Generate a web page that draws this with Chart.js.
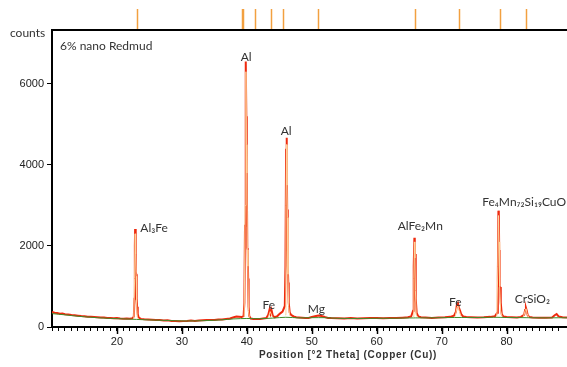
<!DOCTYPE html>
<html>
<head>
  <title>XRD 6% nano Redmud</title>
  <script src="https://cdn.jsdelivr.net/npm/chart.js"></script>
  <style>
    html, body { margin: 0; padding: 0; background: #fff; }
  </style>
</head>
<body>
  <div style="width: 567px; height: 367px;">
    <canvas id="xrdChart" width="567" height="367"></canvas>
  </div>

  <script>
    // measured pattern [2theta, counts]
    const measured = [
      [10.0,370],[10.4,350],[10.8,345],[11.2,330],[11.6,335],[12.0,315],[12.5,310],[13.0,295],[13.5,290],[14.0,280],
      [14.5,270],[15.0,265],[15.5,255],[16.0,250],[16.5,245],[17.0,240],[17.5,235],[18.0,235],[18.5,225],[19.0,225],
      [19.5,215],[20.0,220],[20.5,210],[21.0,205],[21.5,210],[22.0,205],[22.4,215],[22.6,260],[22.7,700],[22.76,2000],
      [22.8,2420],[22.86,2200],[22.92,1360],[22.98,1300],[23.04,700],[23.1,500],[23.2,320],[23.35,230],[23.7,200],[24.2,190],
      [24.8,185],[25.4,180],[26.0,175],[26.6,170],[27.2,160],[27.8,165],[28.4,150],[29.0,150],[29.6,140],[30.2,145],
      [30.8,150],[31.4,160],[32.0,150],[32.6,160],[33.2,165],[33.8,170],[34.4,175],[35.0,175],[35.6,185],[36.2,185],
      [36.8,200],[37.4,210],[38.0,240],[38.4,260],[38.8,255],[39.2,245],[39.5,270],[39.62,600],[39.72,2500],[39.8,6000],
      [39.87,6550],[39.92,5200],[39.96,3950],[40.02,3900],[40.07,1950],[40.13,1900],[40.2,1200],[40.27,500],[40.37,270],[40.6,210],
      [41.0,200],[41.5,195],[42.0,200],[42.5,210],[43.0,220],[43.3,300],[43.5,430],[43.65,330],[43.8,420],[44.0,280],
      [44.3,240],[44.7,270],[45.1,330],[45.5,380],[45.85,520],[45.95,1500],[46.05,4400],[46.12,4670],[46.17,4200],[46.21,2900],
      [46.27,2850],[46.33,1500],[46.38,1100],[46.45,600],[46.6,360],[46.8,300],[47.2,260],[47.6,240],[48.0,235],[48.5,230],
      [49.0,220],[49.5,225],[50.0,245],[50.5,265],[51.0,285],[51.5,270],[52.0,245],[52.5,225],[53.0,220],[54.0,215],
      [55.0,210],[56.0,220],[57.0,210],[58.0,215],[59.0,220],[60.0,225],[61.0,215],[62.0,225],[63.0,220],[64.0,230],
      [64.8,240],[65.3,260],[65.6,400],[65.7,1500],[65.8,2200],[65.86,1830],[65.91,1800],[65.97,840],[66.04,700],[66.15,350],
      [66.4,260],[66.8,240],[67.5,235],[68.5,225],[69.5,235],[70.5,240],[71.3,250],[71.9,280],[72.2,380],[72.35,560],
      [72.5,590],[72.65,480],[72.8,420],[73.0,320],[73.3,260],[73.8,245],[74.5,240],[75.5,235],[76.5,240],[77.5,250],
      [78.2,265],[78.55,350],[78.65,1200],[78.74,2870],[78.8,2800],[78.86,1900],[78.93,1000],[79.0,990],[79.1,600],[79.25,320],
      [79.5,260],[80.0,245],[80.8,240],[81.6,235],[82.2,250],[82.7,300],[82.85,420],[82.98,470],[83.1,400],[83.25,290],
      [83.5,245],[84.0,235],[85.0,230],[86.0,230],[87.0,235],[87.4,290],[87.7,320],[88.0,260],[88.6,240],[89.3,235]
    ];

    // calculated peak profiles (null = break)
    const calculated = [
      [22.6,200],[22.72,1200],[22.8,2300],[22.87,1800],[22.95,1250],[23.02,600],[23.12,250],[23.3,200],[23.31,null],
      [39.6,250],[39.74,3000],[39.86,6300],[39.93,4500],[40.0,3800],[40.08,1900],[40.16,1500],[40.25,400],[40.4,230],[40.41,null],
      [43.3,230],[43.6,380],[43.9,260],[43.91,null],
      [45.9,300],[46.02,3000],[46.11,4500],[46.18,3500],[46.25,2700],[46.33,1300],[46.44,500],[46.6,280],[46.61,null],
      [65.6,250],[65.72,1200],[65.8,2100],[65.88,1700],[65.96,900],[66.08,300],[66.3,240],[66.31,null],
      [72.1,260],[72.35,480],[72.5,520],[72.7,400],[72.95,270],[72.96,null],
      [78.5,260],[78.65,1500],[78.75,2750],[78.83,2100],[78.93,1000],[79.08,400],[79.3,260],[79.31,null],
      [82.6,250],[82.85,400],[83.0,450],[83.15,330],[83.4,240]
    ];

    // background
    const background = [
      [10,330],[12,300],[14,265],[16,240],[18,220],[20,205],[22,195],[24,180],[26,170],[28,160],
      [30,150],[32,150],[34,160],[36,175],[38,200],[40,210],[42,205],[44,220],[46,240],[48,225],
      [50,230],[52,230],[54,215],[56,210],[58,210],[60,215],[62,215],[64,220],[66,225],[68,225],
      [70,230],[72,235],[74,235],[76,235],[78,240],[80,235],[82,232],[84,228],[86,225],[88,228],[89.3,228]
    ];

    // reference pattern stick positions (top strip)
    const refSticks = [23.05, 39.3, 39.45, 41.28, 43.7, 45.64, 50.94, 65.89, 72.6, 78.92, 82.99];

    // phase labels
    const phaseNames  = ['Al\u2083Fe', 'Al', 'Al', 'Fe', 'Mg', 'AlFe\u2082Mn', 'Fe', 'Fe\u2084Mn\u2087\u2082Si\u2081\u2089CuO', 'CrSiO\u2082'];
    const phaseTheta  = [23.6, 39.9, 46.05, 43.4, 50.7, 66.7, 72.1, 82.7, 83.96];
    const phaseCounts = [2444, 6667, 4840, 543, 444, 2494, 617, 3086, 691];
    const phaseAlign  = ['left', 'center', 'center', 'center', 'center', 'center', 'center', 'center', 'center'];

    const yTicks = [0, 2000, 4000, 6000];

    const toXY = (arr) => arr.map((p) => ({ x: p[0], y: p[1] }));

    const extras = {
      id: 'extras',
      afterDraw(chart) {
        const ctx = chart.ctx;
        const xs = chart.scales.x;
        const ys = chart.scales.y;
        const area = chart.chartArea;
        ctx.save();

        // top border
        ctx.strokeStyle = '#000';
        ctx.lineWidth = 2;
        ctx.beginPath();
        ctx.moveTo(area.left, area.top);
        ctx.lineTo(area.right, area.top);
        ctx.stroke();

        // reference sticks
        ctx.strokeStyle = '#f2a040';
        ctx.lineWidth = 1.5;
        refSticks.forEach((t) => {
          const px = Math.round(xs.getPixelForValue(t)) + 0.5;
          ctx.beginPath();
          ctx.moveTo(px, 9);
          ctx.lineTo(px, area.top - 1);
          ctx.stroke();
        });

        // longer major ticks on x
        ctx.strokeStyle = '#000';
        ctx.lineWidth = 1.5;
        for (let v = 20; v <= 80; v += 10) {
          const px = Math.round(xs.getPixelForValue(v)) + 0.5;
          ctx.beginPath();
          ctx.moveTo(px, area.bottom);
          ctx.lineTo(px, area.bottom + 7);
          ctx.stroke();
        }

        // phase labels
        ctx.fillStyle = '#333';
        ctx.font = '12px Lato';
        ctx.textBaseline = 'middle';
        phaseNames.forEach((name, i) => {
          ctx.textAlign = phaseAlign[i];
          ctx.fillText(name, xs.getPixelForValue(phaseTheta[i]), ys.getPixelForValue(phaseCounts[i]));
        });

        // sample name and unit
        ctx.textAlign = 'left';
        ctx.fillText('6% nano Redmud', 60, 46);
        ctx.fillText('counts', 10, 33);

        // x axis title
        ctx.font = 'bold 10px "Liberation Sans"';
        ctx.fillStyle = '#333';
        ctx.textAlign = 'center';
        if ('letterSpacing' in ctx) ctx.letterSpacing = '0.7px';
        ctx.fillText('Position [\u00b02 Theta] (Copper (Cu))', 348, 355);
        ctx.restore();
      }
    };

    const ctxX = document.getElementById('xrdChart').getContext('2d');
    new Chart(ctxX, {
      type: 'line',
      data: {
        datasets: [
          {
            label: 'measured',
            data: toXY(measured),
            borderColor: '#ee2a0e',
            borderWidth: 2,
            pointRadius: 0,
            tension: 0,
            order: 3
          },
          {
            label: 'background',
            data: toXY(background),
            borderColor: '#3f8a2a',
            borderWidth: 1,
            pointRadius: 0,
            tension: 0.3,
            order: 2
          },
          {
            label: 'calculated',
            data: toXY(calculated),
            borderColor: '#ffd49a',
            borderWidth: 1,
            pointRadius: 0,
            tension: 0,
            spanGaps: false,
            order: 1
          }
        ]
      },
      options: {
        responsive: false,
        animation: false,
        events: [],
        layout: { padding: { top: 30, right: 0, left: 0, bottom: 0 } },
        plugins: {
          legend: { display: false },
          tooltip: { enabled: false }
        },
        scales: {
          x: {
            type: 'linear',
            min: 10,
            max: 89.3,
            afterFit: (s) => { s.height = 40; s.paddingRight = 0; s.paddingLeft = 0; },
            border: { display: true, color: '#000', width: 2 },
            grid: { drawOnChartArea: false, drawTicks: true, tickLength: 4, tickColor: '#000', tickWidth: 1 },
            ticks: {
              stepSize: 1,
              autoSkip: false,
              maxRotation: 0,
              padding: 4,
              color: '#222',
              font: { family: '"Liberation Sans"', size: 11 },
              callback: (v) => (v % 10 === 0 && v > 10 ? String(v) : '')
            }
          },
          y: {
            type: 'linear',
            min: 0,
            max: 7330,
            afterFit: (s) => { s.width = 52; s.paddingTop = 0; s.paddingBottom = 0; },
            afterBuildTicks: (s) => { s.ticks = yTicks.map((v) => ({ value: v })); },
            border: { display: true, color: '#000', width: 2 },
            grid: { drawOnChartArea: false, drawTicks: true, tickLength: 5, tickColor: '#000', tickWidth: 1 },
            ticks: {
              padding: 3,
              color: '#222',
              font: { family: '"Liberation Sans"', size: 11 },
              callback: (v) => String(v)
            }
          }
        }
      },
      plugins: [extras]
    });
  </script>
</body>
</html>
